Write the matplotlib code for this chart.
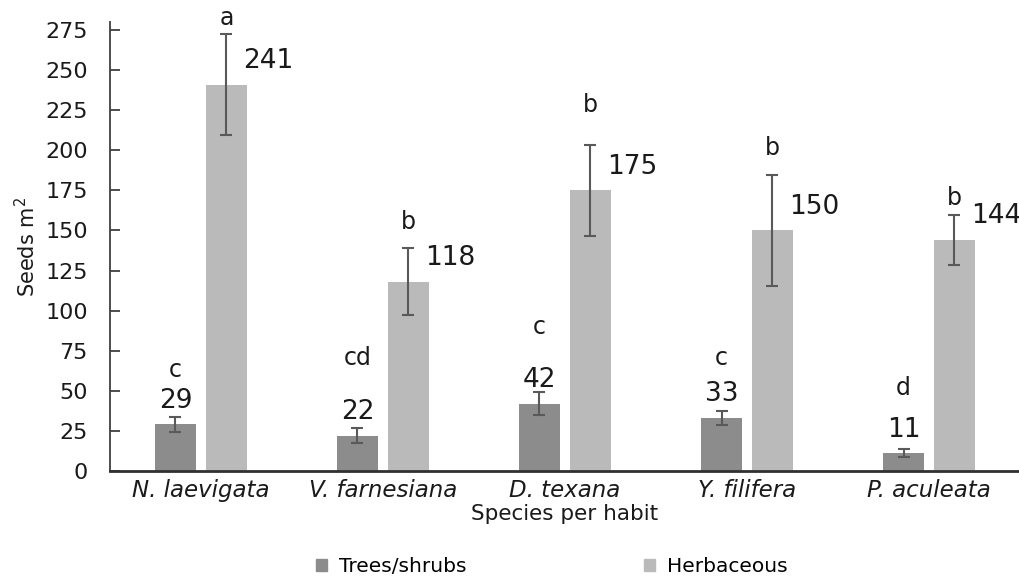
import numpy as np
import matplotlib
matplotlib.use("Agg")
import matplotlib.pyplot as plt
from matplotlib.patches import Patch

species = ["N. laevigata", "V. farnesiana", "D. texana", "Y. filifera", "P. aculeata"]
trees = [29, 22, 42, 33, 11]
trees_err = [4.4, 4.7, 7, 4.4, 2.5]
herbs = [241, 118, 175, 150, 144]
herbs_err = [31.7, 21, 28.5, 34.6, 15.5]
trees_letters = ["c", "cd", "c", "c", "d"]
herbs_letters = ["a", "b", "b", "b", "b"]

# where the significance letters sit (data units)
trees_letter_y = [63, 70.5, 89.8, 70.5, 51.8]
herbs_letter_y = [282.5, 155.3, 228.2, 201.4, 170.2]

dark = "#8c8c8c"
light = "#bababa"
errc = "#595959"
txt = "#1a1a1a"

plt.rcParams['font.family'] = ['DejaVu Sans']

fig = plt.figure(figsize=(10.2, 5.76), dpi=100)
ax = fig.add_axes([0.1078, 0.1823, 0.8922, 0.7795])

x = np.arange(len(species))
w = 0.23
off = 0.14
ax.bar(x - off, trees, w, color=dark, yerr=trees_err,
       error_kw=dict(ecolor=errc, elinewidth=1.5, capsize=4, capthick=1.5))
ax.bar(x + off, herbs, w, color=light, yerr=herbs_err,
       error_kw=dict(ecolor=errc, elinewidth=1.5, capsize=4, capthick=1.5))

for i in range(len(species)):
    ax.annotate(str(trees[i]), (x[i] - off, trees[i]), xytext=(0, 17),
                textcoords="offset points", ha="center", va="center",
                fontsize=19, color=txt)
    ax.annotate(str(herbs[i]), (x[i] + off, herbs[i]), xytext=(12, 17),
                textcoords="offset points", ha="left", va="center",
                fontsize=19, color=txt)
    ax.text(x[i] - off, trees_letter_y[i], trees_letters[i], ha="center",
            va="center", fontsize=17, color=txt, clip_on=False)
    ax.text(x[i] + off, herbs_letter_y[i], herbs_letters[i], ha="center",
            va="center", fontsize=17, color=txt, clip_on=False)

ax.set_xlim(-0.5, 4.5)
ax.set_ylim(0, 280)
ax.set_yticks(np.arange(0, 276, 25))
ax.set_xticks(x)
ax.set_xticklabels(species, fontstyle="italic", fontsize=16.5, color=txt)
ax.tick_params(axis="y", direction="in", length=7, width=1.3, colors="#404040",
               labelsize=16, labelcolor=txt, pad=16)
ax.tick_params(axis="x", length=0, pad=6)
for s in ["top", "right"]:
    ax.spines[s].set_visible(False)
ax.spines["left"].set_color("#404040")
ax.spines["left"].set_linewidth(1.3)
ax.spines["bottom"].set_color("#303030")
ax.spines["bottom"].set_linewidth(2)

ax.set_xlabel("Species per habit", fontsize=15.5, color=txt, labelpad=1)
ax.set_ylabel("Seeds m$^2$", fontsize=15, color=txt, labelpad=4)

handles = [Patch(color=dark, label="Trees/shrubs"), Patch(color=light, label="Herbaceous")]
fig.legend(handles=handles, loc="center", bbox_to_anchor=(0.541, 0.017), ncol=2,
           frameon=False, fontsize=14.5, handlelength=0.55, handleheight=0.55,
           handletextpad=0.6, columnspacing=8.8, borderpad=0.2)

fig.savefig("out.png", dpi=100)
